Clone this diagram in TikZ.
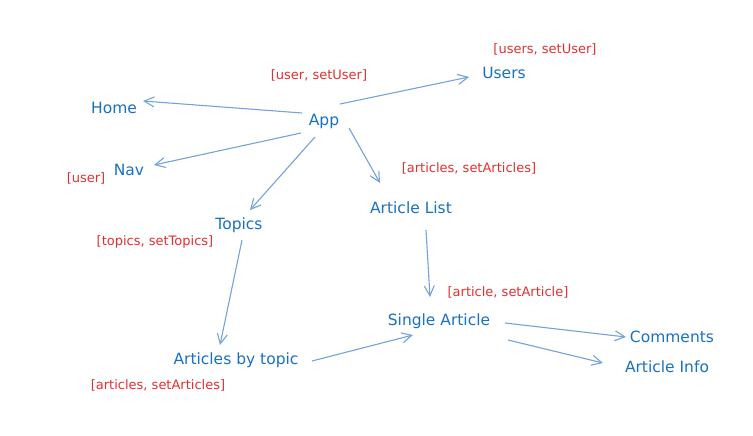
\documentclass[tikz,border=0pt]{standalone}
\usepackage{fontspec}
\setmainfont{DejaVu Sans}
\usetikzlibrary{arrows.meta}
\definecolor{compblue}{HTML}{1971C2}
\definecolor{statered}{HTML}{E03131}
\definecolor{linkblue}{HTML}{74A3DB}
\tikzset{
  comp/.style={text=compblue, font=\fontsize{15.5}{17}\selectfont, inner sep=0pt},
  stateinfo/.style={text=statered, font=\fontsize{13}{15}\selectfont, inner sep=0pt},
  link/.style={draw=linkblue, line width=1.1pt, -{Straight Barb[length=10pt,width=10pt,line width=1.1pt]}}
}
\begin{document}
\begin{tikzpicture}[x=1pt,y=-1pt]
\useasboundingbox[fill=white] (0,0) rectangle (753,436);
% components
\node[comp] (users) at (504,73) {Users};
\node[comp] (home) at (114,108) {Home};
\node[comp] (app) at (324,121) {App};
\node[comp] (nav) at (129,170) {Nav};
\node[comp] (artlist) at (411,208) {Article List};
\node[comp] (topics) at (239,225) {Topics};
\node[comp] (single) at (439,321) {Single Article};
\node[comp] (comments) at (672,337) {Comments};
\node[comp] (info) at (667,367) {Article Info};
\node[comp] (bytopic) at (236,360) {Articles by topic};
% state labels
\node[stateinfo] (s-users) at (545,49) {[users, setUser]};
\node[stateinfo] (s-app) at (319,75) {[user, setUser]};
\node[stateinfo] (s-nav) at (86,178) {[user]};
\node[stateinfo] (s-artlist) at (469,168) {[articles, setArticles]};
\node[stateinfo] (s-topics) at (155,242) {[topics, setTopics]};
\node[stateinfo] (s-single) at (508,292) {[article, setArticle]};
\node[stateinfo] (s-bytopic) at (158,385) {[articles, setArticles]};
% anchor coordinates for connector ends
\coordinate (a1) at (340,104); \coordinate (u1) at (469,77);
\coordinate (a2) at (302,113); \coordinate (h1) at (143,101);
\coordinate (a3) at (301,133); \coordinate (n1) at (154,165);
\coordinate (a4) at (315,137); \coordinate (t1) at (250,210);
\coordinate (a5) at (349,128); \coordinate (l1) at (380,183);
\coordinate (l2) at (426,230); \coordinate (si1) at (430,297);
\coordinate (t2) at (242,240); \coordinate (b1) at (220,345);
\coordinate (b2) at (312,361); \coordinate (si2) at (413,335);
\coordinate (si3) at (505,323); \coordinate (c1) at (626,337);
\coordinate (si4) at (508,340); \coordinate (i1) at (603,363);
% connectors
\draw[link] (a1) -- (u1);
\draw[link] (a2) -- (h1);
\draw[link] (a3) -- (n1);
\draw[link] (a4) -- (t1);
\draw[link] (a5) -- (l1);
\draw[link] (l2) -- (si1);
\draw[link] (t2) -- (b1);
\draw[link] (b2) -- (si2);
\draw[link] (si3) -- (c1);
\draw[link] (si4) -- (i1);
\end{tikzpicture}
\end{document}
